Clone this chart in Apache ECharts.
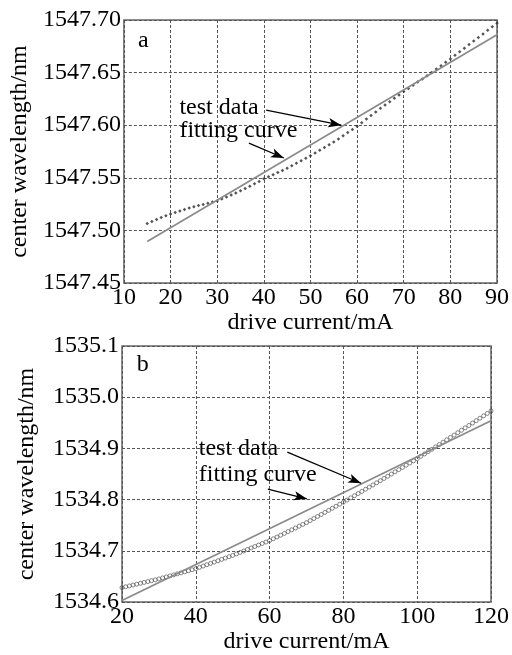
<!DOCTYPE html>
<html><head><meta charset="utf-8">
<script src="https://cdn.jsdelivr.net/npm/echarts@6/dist/echarts.min.js"></script>
<style>html,body{margin:0;padding:0;background:#fff}#c{width:512px;height:655px}</style>
</head><body><div id="c"></div>
<script>
// ---------- Data (panel a) ----------
const currentStartA = 15, currentEndA = 90; // mA, 1 mA steps
const wavelengthA = [
1547.5065,1547.5085,1547.5104,1547.5122,1547.5139,1547.5155,1547.5170,1547.5184,1547.5198,1547.5212,
1547.5225,1547.5236,1547.5247,1547.5258,1547.5269,1547.5280,1547.5298,1547.5317,1547.5336,1547.5356,
1547.5376,1547.5398,1547.5420,1547.5443,1547.5466,1547.5490,1547.5510,1547.5530,1547.5550,1547.5570,
1547.5590,1547.5614,1547.5638,1547.5662,1547.5686,1547.5710,1547.5736,1547.5762,1547.5788,1547.5814,
1547.5840,1547.5870,1547.5900,1547.5930,1547.5960,1547.5990,1547.6024,1547.6058,1547.6092,1547.6126,
1547.6160,1547.6192,1547.6224,1547.6256,1547.6288,1547.6320,1547.6350,1547.6380,1547.6410,1547.6440,
1547.6470,1547.6502,1547.6534,1547.6566,1547.6598,1547.6630,1547.6664,1547.6698,1547.6732,1547.6766,
1547.6800,1547.6834,1547.6868,1547.6902,1547.6936,1547.6970];
const fitA_x = [15, 90];
const fitA_y = [1547.4895, 1547.6860];
const xTicksA = [10, 20, 30, 40, 50, 60, 70, 80, 90];
const yTicksA = [1547.45, 1547.50, 1547.55, 1547.60, 1547.65, 1547.70];

// ---------- Data (panel b) ----------
const currentStartB = 20, currentEndB = 120; // mA, 1 mA steps
const wavelengthB = [
1534.6280,1534.6297,1534.6314,1534.6331,1534.6348,1534.6365,1534.6382,1534.6399,1534.6416,1534.6433,
1534.6450,1534.6470,1534.6490,1534.6510,1534.6530,1534.6550,1534.6570,1534.6590,1534.6610,1534.6630,
1534.6650,1534.6676,1534.6702,1534.6728,1534.6754,1534.6780,1534.6806,1534.6832,1534.6858,1534.6884,
1534.6910,1534.6939,1534.6968,1534.6997,1534.7026,1534.7055,1534.7084,1534.7113,1534.7142,1534.7171,
1534.7200,1534.7235,1534.7270,1534.7305,1534.7340,1534.7375,1534.7410,1534.7445,1534.7480,1534.7515,
1534.7550,1534.7590,1534.7630,1534.7670,1534.7710,1534.7750,1534.7790,1534.7830,1534.7870,1534.7910,
1534.7950,1534.7992,1534.8034,1534.8076,1534.8118,1534.8160,1534.8202,1534.8244,1534.8286,1534.8328,
1534.8370,1534.8413,1534.8456,1534.8499,1534.8542,1534.8585,1534.8628,1534.8671,1534.8714,1534.8757,
1534.8800,1534.8846,1534.8892,1534.8938,1534.8984,1534.9030,1534.9076,1534.9122,1534.9168,1534.9214,
1534.9260,1534.9307,1534.9354,1534.9401,1534.9448,1534.9495,1534.9542,1534.9589,1534.9636,1534.9683,
1534.9730];
const fitB_x = [20, 120];
const fitB_y = [1534.6030, 1534.9540];
const xTicksB = [20, 40, 60, 80, 100, 120];
const yTicksB = [1534.6, 1534.7, 1534.8, 1534.9, 1535.0, 1535.1];

// ---------- Text ----------
const xName = 'drive current/mA';
const yName = 'center wavelength/nm';
const annoText = ['test data', 'fitting curve'];
// annotation anchors in data coordinates: [x, y]
const annoA = {label: [[21.9, 1547.617], [21.9, 1547.595]], arrows: [[[40.5, 1547.6144],[56.6, 1547.6000]], [[36.8, 1547.5830],[44.3, 1547.5688]]], panel: [13.0, 1547.680]};
const annoB = {label: [[40.8, 1534.8985], [40.8, 1534.849]], arrows: [[[64.8, 1534.8928],[84.8, 1534.8319]], [[59.5, 1534.8205],[70.1, 1534.8015]]], panel: [24.0, 1535.064]};

const FONT = '"Liberation Serif", "Times New Roman", serif';
const FS = 24;

function pairs(start, ys){ return ys.map((v,i)=>[start+i, v]); }
function zip(xs, ys){ return xs.map((x,i)=>[x, ys[i]]); }

function xAxis(idx, ticks){
  return {type:'value', gridIndex: idx, min: ticks[0], max: ticks[ticks.length-1], interval: ticks[1]-ticks[0],
    name: xName, nameLocation:'middle', nameGap: 28,
    nameTextStyle:{fontFamily:FONT, fontSize:FS, color:'#000'},
    axisLine:{show:false}, axisTick:{show:false},
    axisLabel:{fontFamily:FONT, fontSize:FS, color:'#000', margin:3},
    splitLine:{show:true, lineStyle:{type:[3,2], color:'#555', width:1}}};
}
function yAxis(idx, ticks, dec, gap){
  const step = Math.round((ticks[1]-ticks[0])*1000)/1000;
  return {type:'value', gridIndex: idx, min: ticks[0], max: ticks[ticks.length-1], interval: step,
    name: yName, nameLocation:'middle', nameGap: gap, nameRotate: 90,
    nameTextStyle:{fontFamily:FONT, fontSize:FS, color:'#000'},
    axisLine:{show:false}, axisTick:{show:false},
    axisLabel:{fontFamily:FONT, fontSize:FS, color:'#000', margin:3, formatter: v => v.toFixed(dec)},
    splitLine:{show:true, lineStyle:{type:[3,2], color:'#555', width:1}}};
}
function arrowMark(arrows){
  return {silent:true, symbol:['none','arrow'], symbolSize:[7,13], label:{show:false},
    lineStyle:{color:'#000', width:1.3, type:'solid'}, animation:false,
    data: arrows.map(a => [{coord:a[0]}, {coord:a[1]}])};
}

const chart = echarts.init(document.getElementById('c'));
chart.setOption({
  animation:false,
  backgroundColor:'#fff',
  grid:[
    {left:121, right:15, top:20, height:263, show:true, borderColor:'#666', borderWidth:1.5},
    {left:122, right:15, top:346, height:263, show:true, borderColor:'#666', borderWidth:1.5}
  ],
  xAxis:[xAxis(0, xTicksA), xAxis(1, xTicksB)],
  yAxis:[yAxis(0, yTicksA, 2, 90), yAxis(1, yTicksB, 1, 83)],
  series:[
    {type:'scatter', xAxisIndex:0, yAxisIndex:0, data:pairs(currentStartA, wavelengthA),
      symbol:'diamond', symbolSize:3.5, itemStyle:{color:'#2a2a2a'}},
    {type:'line', xAxisIndex:0, yAxisIndex:0, data:zip(fitA_x, fitA_y), showSymbol:false,
      lineStyle:{color:'#8a8a8a', width:1.7}, markLine: arrowMark(annoA.arrows), z:3},
    {type:'scatter', xAxisIndex:1, yAxisIndex:1, data:pairs(currentStartB, wavelengthB),
      symbol:'circle', symbolSize:4, itemStyle:{color:'rgba(0,0,0,0)', borderColor:'#444', borderWidth:0.8}},
    {type:'line', xAxisIndex:1, yAxisIndex:1, data:zip(fitB_x, fitB_y), showSymbol:false,
      lineStyle:{color:'#8a8a8a', width:1.7}, markLine: arrowMark(annoB.arrows), z:3}
  ]
});

function textEl(grid, pt, txt){
  const p = chart.convertToPixel({gridIndex: grid}, pt);
  return {type:'text', x:p[0], y:p[1], z:10,
    style:{text:txt, fill:'#000', font: FS + 'px ' + FONT, align:'left', verticalAlign:'middle'}};
}
chart.setOption({graphic:[
  textEl(0, annoA.panel, 'a'),
  textEl(0, annoA.label[0], annoText[0]),
  textEl(0, annoA.label[1], annoText[1]),
  textEl(1, annoB.panel, 'b'),
  textEl(1, annoB.label[0], annoText[0]),
  textEl(1, annoB.label[1], annoText[1])
]});
</script>
</body></html>
